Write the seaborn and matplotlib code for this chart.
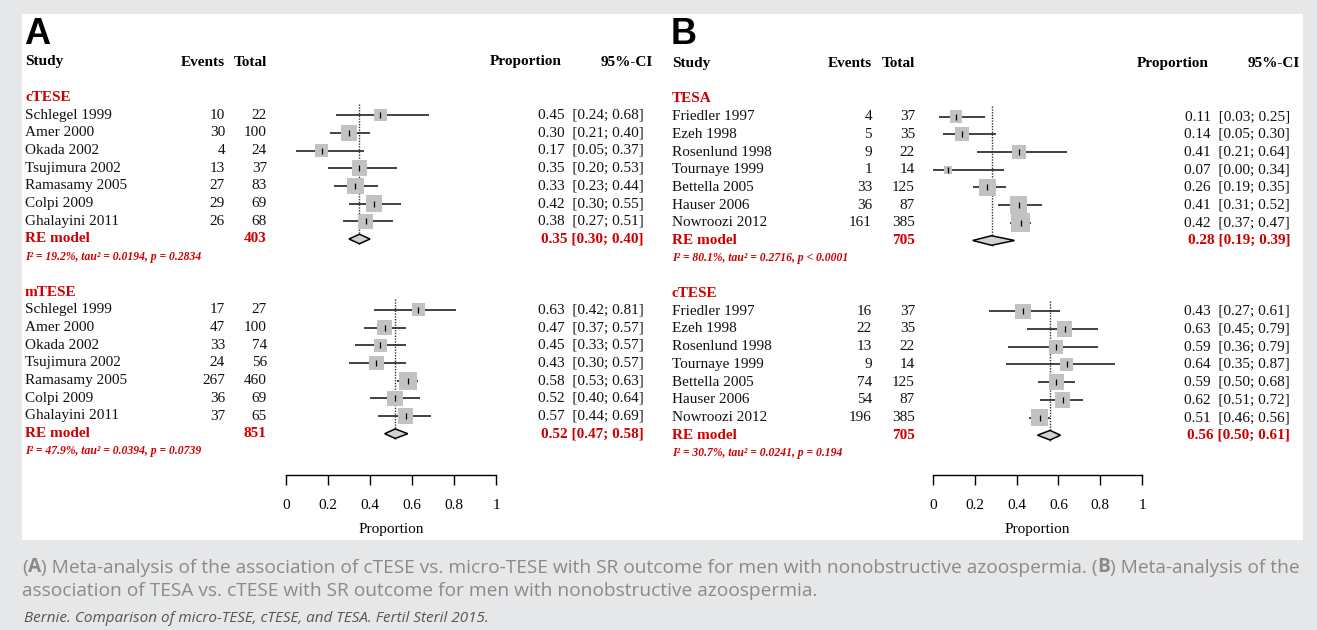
import matplotlib
matplotlib.use("Agg")
import matplotlib.pyplot as plt
import seaborn as sns
import pandas as pd
from matplotlib.patches import Rectangle
from matplotlib import font_manager

# Impostazioni grafiche
sns.set_theme(style="white")
plt.rcParams['font.family'] = ['Liberation Serif', 'DejaVu Serif']

W, H = 1317, 630
RED = '#cc0000'
SQUARE = '#c2c2c2'
BG = '#e6e7e9'
CAP_GREY = '#8a8a8a'
STEP = 17.7   # distanza tra le righe in pixel

# --- DATI: pannello A ---
studies_a = ["Schlegel 1999", "Amer 2000", "Okada 2002", "Tsujimura 2002",
             "Ramasamy 2005", "Colpi 2009", "Ghalayini 2011"]

ev_ctese_a = [10, 30, 4, 13, 27, 29, 26]
tot_ctese_a = [22, 100, 24, 37, 83, 69, 68]
prop_ctese_a = [0.45, 0.30, 0.17, 0.35, 0.33, 0.42, 0.38]
lo_ctese_a = [0.24, 0.21, 0.05, 0.20, 0.23, 0.30, 0.27]
hi_ctese_a = [0.68, 0.40, 0.37, 0.53, 0.44, 0.55, 0.51]
w_ctese_a = [10, 17, 10, 15, 17, 17, 14]
re_ctese_a = [0.35, 0.30, 0.40]
n_ctese_a = 403
het_ctese_a = "I² = 19.2%, tau² = 0.0194, p = 0.2834"

ev_mtese = [17, 47, 33, 24, 267, 36, 37]
tot_mtese = [27, 100, 74, 56, 460, 69, 65]
prop_mtese = [0.63, 0.47, 0.45, 0.43, 0.58, 0.52, 0.57]
lo_mtese = [0.42, 0.37, 0.33, 0.30, 0.53, 0.40, 0.44]
hi_mtese = [0.81, 0.57, 0.57, 0.57, 0.63, 0.64, 0.69]
w_mtese = [11, 15, 11, 13, 20, 15, 15]
re_mtese = [0.52, 0.47, 0.58]
n_mtese = 851
het_mtese = "I² = 47.9%, tau² = 0.0394, p = 0.0739"

# --- DATI: pannello B ---
studies_b = ["Friedler 1997", "Ezeh 1998", "Rosenlund 1998", "Tournaye 1999",
             "Bettella 2005", "Hauser 2006", "Nowroozi 2012"]

ev_tesa = [4, 5, 9, 1, 33, 36, 161]
tot_tesa = [37, 35, 22, 14, 125, 87, 385]
prop_tesa = [0.11, 0.14, 0.41, 0.07, 0.26, 0.41, 0.42]
lo_tesa = [0.03, 0.05, 0.21, 0.00, 0.19, 0.31, 0.37]
hi_tesa = [0.25, 0.30, 0.64, 0.34, 0.35, 0.52, 0.47]
w_tesa = [10, 12, 12, 4, 19, 19, 22]
re_tesa = [0.28, 0.19, 0.39]
n_tesa = 705
het_tesa = "I² = 80.1%, tau² = 0.2716, p < 0.0001"

ev_ctese_b = [16, 22, 13, 9, 74, 54, 196]
tot_ctese_b = [37, 35, 22, 14, 125, 87, 385]
prop_ctese_b = [0.43, 0.63, 0.59, 0.64, 0.59, 0.62, 0.51]
lo_ctese_b = [0.27, 0.45, 0.36, 0.35, 0.50, 0.51, 0.46]
hi_ctese_b = [0.61, 0.79, 0.79, 0.87, 0.68, 0.72, 0.56]
w_ctese_b = [15, 15, 12, 10, 15, 15, 19]
re_ctese_b = [0.56, 0.50, 0.61]
n_ctese_b = 705
het_ctese_b = "I² = 30.7%, tau² = 0.0241, p = 0.194"

x_ticks = [0, 0.2, 0.4, 0.6, 0.8, 1]
x_tick_labels = ["0", "0.2", "0.4", "0.6", "0.8", "1"]

caption_line1 = [("(", "normal"), ("A", "bold"),
                 (") Meta-analysis of the association of cTESE vs. micro-TESE with SR outcome "
                  "for men with nonobstructive azoospermia. (", "normal"),
                 ("B", "bold"), (") Meta-analysis of the", "normal")]
caption_line2 = "association of TESA vs. cTESE with SR outcome for men with nonobstructive azoospermia."
caption_source = "Bernie. Comparison of micro-TESE, cTESE, and TESA. Fertil Steril 2015."


def rect_px(x1, y1, x2, y2):
    return [x1 / W, 1 - y2 / H, (x2 - x1) / W, (y2 - y1) / H]


def gruppo(nome, studi, ev, tot, prop, lo, hi, peso, re, n, het):
    df = pd.DataFrame({'studio': studi, 'eventi': ev, 'totale': tot,
                       'prop': prop, 'lo': lo, 'hi': hi, 'peso': peso})
    return dict(nome=nome, df=df, re=re, n=n, het=het)


def disegna_pannello(fig, lettera, box, x0, scala, y0, gruppi, c):
    ax = fig.add_axes(rect_px(*box))
    ax.set_facecolor('none')
    ax.set_xlim((box[0] - x0) / scala, (box[2] - x0) / scala)
    ax.set_ylim((box[3] - y0) / STEP, (box[1] - y0) / STEP)
    px = lambda p: (p - x0) / scala

    ax.text(px(c['lettera']), (44 - y0) / STEP, lettera, family=['Liberation Sans', 'DejaVu Sans'],
            fontweight='bold', fontsize=26, va='baseline', ha='left', color='black')

    # intestazioni
    hdr = dict(fontsize=11, fontweight='bold', va='center', color='black')
    ax.text(px(c['nome']), 0, "Study", ha='left', **hdr)
    ax.text(px(c['eventi']), 0, "Events", ha='right', **hdr)
    ax.text(px(c['totale']), 0, "Total", ha='right', **hdr)
    ax.text(px(c['prop']), 0, "Proportion", ha='left', **hdr)
    ax.text(px(c['ci']), 0, "95%-CI", ha='right', **hdr)

    for g_i, g in enumerate(gruppi):
        base = 2 + 11 * g_i
        df = g['df'].copy()
        df['riga'] = base + 1 + df.index
        riga_re = base + 8
        est, re_lo, re_hi = g['re']

        ax.text(px(c['nome']), base, g['nome'], ha='left', va='center',
                fontsize=11, fontweight='bold', color=RED)
        for _, r in df.iterrows():
            ax.text(px(c['nome']), r['riga'], r['studio'], ha='left', va='center', fontsize=11, color='#111')
            ax.text(px(c['eventi']), r['riga'], f"{r['eventi']}", ha='right', va='center', fontsize=11, color='#111')
            ax.text(px(c['totale']), r['riga'], f"{r['totale']}", ha='right', va='center', fontsize=11, color='#111')
            ax.text(px(c['valori']), r['riga'], f"{r['prop']:.2f}  [{r['lo']:.2f}; {r['hi']:.2f}]",
                    ha='right', va='center', fontsize=11, color='#111')

        red = dict(fontsize=11, fontweight='bold', va='center', color=RED)
        ax.text(px(c['nome']), riga_re, "RE model", ha='left', **red)
        ax.text(px(c['totale']), riga_re, f"{g['n']}", ha='right', **red)
        ax.text(px(c['valori']), riga_re, f"{est:.2f} [{re_lo:.2f}; {re_hi:.2f}]", ha='right', **red)
        ax.text(px(c['nome']), riga_re + 1, g['het'], ha='left', va='center', fontsize=8.4,
                fontweight='bold', fontstyle='italic', color=RED)

        # linea di riferimento tratteggiata
        ax.vlines(est, base + 0.4, riga_re + 0.3, colors='#333333', linestyles=(0, (1, 1)), lw=1.0, zorder=1)
        # intervalli di confidenza
        ax.hlines(df['riga'], df['lo'], df['hi'], colors='#222222', lw=1.2, zorder=2)
        # quadrati proporzionali al peso
        sns.scatterplot(data=df, x='prop', y='riga', size='peso', sizes=(0, 210), size_norm=(0, 25),
                        marker='s', color=SQUARE, linewidth=0, legend=False, ax=ax, zorder=3)
        sns.scatterplot(data=df, x='prop', y='riga', marker='|', s=16, color='black',
                        linewidth=0.9, legend=False, ax=ax, zorder=4)
        # diamante del modello RE
        ax.fill([re_lo, est, re_hi, est], [riga_re, riga_re - 0.27, riga_re, riga_re + 0.27],
                facecolor='#d2d2d2', edgecolor='black', lw=1.1, zorder=3)

    # asse x
    for s in ['top', 'right', 'left']:
        ax.spines[s].set_visible(False)
    ax.spines['bottom'].set_position(('data', (475 - y0) / STEP))
    ax.spines['bottom'].set_bounds(0, 1)
    ax.spines['bottom'].set_color('black')
    ax.spines['bottom'].set_linewidth(1.0)
    ax.set_xticks(x_ticks)
    ax.set_xticklabels(x_tick_labels)
    ax.set_yticks([])
    ax.set_xlabel("")
    ax.set_ylabel("")
    ax.tick_params(axis='x', bottom=True, direction='out', length=7, width=1.0, color='black',
                   labelsize=11, labelcolor='black', pad=10)
    ax.grid(False)
    ax.text(0.5, (529 - y0) / STEP, "Proportion", ha='center', va='center', fontsize=11, color='black')
    return ax


fig = plt.figure(figsize=(W / 100, H / 100), dpi=100, facecolor=BG)
fig.patches.append(Rectangle((22 / W, 1 - 540 / H), (1303 - 22) / W, (540 - 14) / H,
                             transform=fig.transFigure, facecolor='white', edgecolor='none', zorder=-1))

gruppi_a = [gruppo("cTESE", studies_a, ev_ctese_a, tot_ctese_a, prop_ctese_a, lo_ctese_a, hi_ctese_a,
                   w_ctese_a, re_ctese_a, n_ctese_a, het_ctese_a),
            gruppo("mTESE", studies_a, ev_mtese, tot_mtese, prop_mtese, lo_mtese, hi_mtese,
                   w_mtese, re_mtese, n_mtese, het_mtese)]
gruppi_b = [gruppo("TESA", studies_b, ev_tesa, tot_tesa, prop_tesa, lo_tesa, hi_tesa,
                   w_tesa, re_tesa, n_tesa, het_tesa),
            gruppo("cTESE", studies_b, ev_ctese_b, tot_ctese_b, prop_ctese_b, lo_ctese_b, hi_ctese_b,
                   w_ctese_b, re_ctese_b, n_ctese_b, het_ctese_b)]

cols_a = dict(lettera=24, nome=25, eventi=225, totale=267, prop=490, ci=653, valori=644)
cols_b = dict(lettera=671, nome=672, eventi=872, totale=915, prop=1137, ci=1300, valori=1290)

disegna_pannello(fig, "A", (22, 14, 660, 540), 286, 210, 62, gruppi_a, cols_a)
disegna_pannello(fig, "B", (660, 14, 1303, 540), 933, 209, 63.5, gruppi_b, cols_b)

# --- didascalia ---
nomi = {f.name for f in font_manager.fontManager.ttflist}
cap_font = 'Liberation Sans Narrow' if 'Liberation Sans Narrow' in nomi else 'Open Sans'
cap_size = 14.5 if cap_font == 'Liberation Sans Narrow' else 13.8

ax_cap = fig.add_axes([0, 0, 1, 1])
ax_cap.axis('off')
ax_cap.set_xlim(0, W)
ax_cap.set_ylim(H, 0)
ax_cap.set_facecolor('none')

prev = None
for testo, peso in caption_line1:
    kw = dict(family=cap_font, fontsize=cap_size, fontweight=peso, color=CAP_GREY, va='bottom', ha='left')
    if prev is None:
        prev = ax_cap.text(22, 577, testo, **kw)
    else:
        prev = ax_cap.annotate(testo, xy=(1, 0), xycoords=prev, **kw)
ax_cap.text(22, 600, caption_line2, family=cap_font, fontsize=cap_size, color=CAP_GREY, va='bottom', ha='left')
ax_cap.text(24, 618, caption_source, family=cap_font, fontsize=11.0, fontstyle='italic',
            color='#555555', va='center', ha='left')

fig.savefig("out.png", dpi=100, facecolor=BG)
